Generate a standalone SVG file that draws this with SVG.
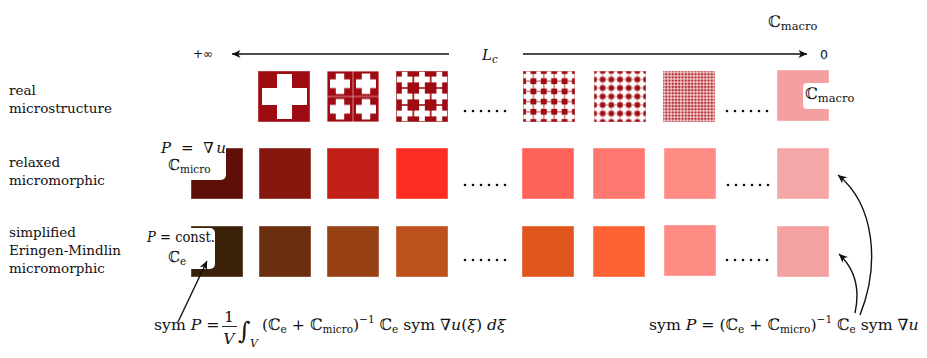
<svg xmlns="http://www.w3.org/2000/svg" width="927" height="358" viewBox="0 0 927 358">
<style>
  .lbl{font-family:"DejaVu Serif","Liberation Serif",serif;font-size:13.5px;fill:#111}
  .m{font-family:"DejaVu Serif","Liberation Serif",serif;font-size:15px;fill:#111}
  .f{font-size:15.7px}
  .it{font-style:italic}
  .sm{font-size:10.5px}
  .ax{font-family:"DejaVu Sans","Liberation Sans",sans-serif;font-size:12px;fill:#111}
  .tile{stroke:#ffffff;stroke-opacity:.4;stroke-width:1}
  .conn{fill:none;stroke:#111;stroke-width:1.4}
  .dot{fill:#111}
</style>
<defs>
  <marker id="ah" viewBox="-10 -5 11 10" refX="0" refY="0" markerWidth="11" markerHeight="10" orient="auto" markerUnits="userSpaceOnUse">
    <path d="M0,0 L-8.5,-4 L-6.2,0 L-8.5,4 Z" fill="#111"/>
  </marker>
  <!-- periodic unit cells: a white cross on dark red -->
  <pattern id="c2" patternUnits="userSpaceOnUse" width="26" height="25.5">
    <rect width="26" height="25.5" fill="#9e0b12" stroke="#e9a3a3" stroke-width="0.8"/>
    <rect x="3" y="8.4" width="20" height="8.7" fill="#fff"/>
    <rect x="8.8" y="2.5" width="8.4" height="20.5" fill="#fff"/>
  </pattern>
  <pattern id="c3" patternUnits="userSpaceOnUse" width="17.333" height="17">
    <rect width="17.333" height="17" fill="#9e0b12"/>
    <rect x="0.8" y="5.6" width="15.7" height="5.8" fill="#fff"/>
    <rect x="5.8" y="0.8" width="5.7" height="15.4" fill="#fff"/>
  </pattern>
  <pattern id="c5" patternUnits="userSpaceOnUse" width="10.4" height="10.2">
    <rect width="10.4" height="10.2" fill="#9e0b12"/>
    <rect x="0.4" y="2.9" width="9.6" height="4.4" fill="#fff"/>
    <rect x="3" y="0.4" width="4.4" height="9.4" fill="#fff"/>
  </pattern>
  <pattern id="c6" patternUnits="userSpaceOnUse" width="8.667" height="8.5">
    <rect width="8.667" height="8.5" fill="#9e0b12"/>
    <rect x="0.3" y="2.5" width="8.067" height="3.5" fill="#fff"/>
    <rect x="2.6" y="0.3" width="3.5" height="7.9" fill="#fff"/>
  </pattern>
  <pattern id="c16" patternUnits="userSpaceOnUse" width="3.25" height="3.1875">
    <rect width="3.25" height="3.1875" fill="#b3262c"/>
    <rect x="0" y="1.1" width="3.25" height="1" fill="#f8dede"/>
    <rect x="1.12" y="0" width="1" height="3.1875" fill="#f8dede"/>
  </pattern>
</defs>

<rect width="927" height="358" fill="#fff"/>

<!-- row captions -->
<g id="caption-real">
  <text class="lbl" x="9" y="95">real</text>
  <text class="lbl" x="9" y="113">microstructure</text>
</g>
<g id="caption-relaxed">
  <text class="lbl" x="9" y="167">relaxed</text>
  <text class="lbl" x="9" y="185">micromorphic</text>
</g>
<g id="caption-eringen">
  <text class="lbl" x="9" y="237">simplified</text>
  <text class="lbl" x="9" y="255">Eringen-Mindlin</text>
  <text class="lbl" x="9" y="273">micromorphic</text>
</g>

<!-- scale axis labels -->
<g id="axis-labels">
  <text class="ax" x="193" y="58">+∞</text>
  <text class="ax" x="820" y="59" style="font-size:12.5px">0</text>
  <text class="m it" x="482" y="60">L<tspan class="sm" dy="3">c</tspan></text>
  <text class="m" x="768" y="27" style="font-size:16px">ℂ<tspan class="sm" dy="3" style="font-size:11.5px">macro</tspan></text>
</g>

<!-- real microstructure -->
<g id="real-1">
  <rect class="tile" x="258" y="71" width="52" height="51" fill="#9e0b12"/>
  <rect x="262" y="88" width="45" height="17" fill="#fff"/>
  <rect x="277" y="74" width="15" height="45" fill="#fff"/>
</g>
<g id="real-2" transform="translate(327,71)"><rect class="tile" width="52" height="51" fill="url(#c2)"/></g>
<g id="real-3" transform="translate(396,71)"><rect class="tile" width="52" height="51" fill="url(#c3)"/></g>
<g id="real-4" transform="translate(523,71)"><rect class="tile" width="52" height="51" fill="url(#c5)"/></g>
<g id="real-5" transform="translate(594,71)"><rect class="tile" width="52" height="51" fill="url(#c6)"/></g>
<g id="real-6" transform="translate(663,71)"><rect class="tile" width="52" height="51" fill="url(#c16)"/></g>
<g id="real-7">
  <rect class="tile" x="777" y="70" width="52" height="51" fill="#f4a0a0"/>
  <rect x="803" y="83" width="67" height="26" rx="4" fill="#fff"/>
  <text class="m" x="805" y="99" style="font-size:16px">ℂ<tspan class="sm" dy="3" style="font-size:11.5px">macro</tspan></text>
</g>

<!-- relaxed micromorphic -->
<g id="relaxed-1">
  <rect class="tile" x="191" y="148" width="52" height="51" fill="#5e0f08"/>
  <rect x="150" y="138" width="76" height="42" rx="5" fill="#fff"/>
  <text class="m" x="161" y="153" textLength="65" lengthAdjust="spacing"><tspan class="it">P</tspan> = ∇<tspan class="it">u</tspan></text>
  <text class="m" x="168" y="170">ℂ<tspan class="sm" dy="3">micro</tspan></text>
</g>
<rect id="relaxed-2" class="tile" x="259" y="148" width="52" height="51" fill="#86170e"/>
<rect id="relaxed-3" class="tile" x="327" y="148" width="52" height="51" fill="#c21f18"/>
<rect id="relaxed-4" class="tile" x="396" y="148" width="52" height="51" fill="#fe2d22"/>
<rect id="relaxed-5" class="tile" x="522" y="148" width="52" height="51" fill="#ff6259"/>
<rect id="relaxed-6" class="tile" x="593" y="148" width="52" height="51" fill="#ff786f"/>
<rect id="relaxed-7" class="tile" x="664" y="148" width="52" height="51" fill="#ff8b85"/>
<rect id="relaxed-8" class="tile" x="777" y="148" width="52" height="51" fill="#f4a7a7"/>

<!-- simplified Eringen-Mindlin micromorphic -->
<g id="eringen-1">
  <rect class="tile" x="191" y="226" width="52" height="51" fill="#3a2108"/>
  <rect x="140" y="228" width="75" height="41" rx="5" fill="#fff"/>
  <text class="m" x="147" y="242" textLength="68" lengthAdjust="spacingAndGlyphs"><tspan class="it">P</tspan> = const.</text>
  <text class="m" x="168" y="262">ℂ<tspan class="sm" dy="3">e</tspan></text>
</g>
<rect id="eringen-2" class="tile" x="259" y="226" width="52" height="51" fill="#6b2f10"/>
<rect id="eringen-3" class="tile" x="327" y="226" width="52" height="51" fill="#964014"/>
<rect id="eringen-4" class="tile" x="396" y="226" width="52" height="51" fill="#bd511d"/>
<rect id="eringen-5" class="tile" x="522" y="226" width="52" height="51" fill="#df561e"/>
<rect id="eringen-6" class="tile" x="593" y="226" width="52" height="51" fill="#fe6334"/>
<rect id="eringen-7" class="tile" x="664" y="225" width="52" height="51" fill="#ff8b85"/>
<rect id="eringen-8" class="tile" x="777" y="226" width="52" height="51" fill="#f4a1a1"/>

<!-- ellipses between columns -->
<g id="ellipses" class="dot">
  <circle cx="465" cy="111" r="1.3"/><circle cx="473" cy="111" r="1.3"/><circle cx="481" cy="111" r="1.3"/><circle cx="489" cy="111" r="1.3"/><circle cx="497" cy="111" r="1.3"/><circle cx="505" cy="111" r="1.3"/>
  <circle cx="727" cy="111" r="1.3"/><circle cx="735" cy="111" r="1.3"/><circle cx="743" cy="111" r="1.3"/><circle cx="751" cy="111" r="1.3"/><circle cx="759" cy="111" r="1.3"/><circle cx="767" cy="111" r="1.3"/>
  <circle cx="465" cy="185" r="1.3"/><circle cx="473" cy="185" r="1.3"/><circle cx="481" cy="185" r="1.3"/><circle cx="489" cy="185" r="1.3"/><circle cx="497" cy="185" r="1.3"/><circle cx="505" cy="185" r="1.3"/>
  <circle cx="728" cy="185" r="1.3"/><circle cx="736" cy="185" r="1.3"/><circle cx="744" cy="185" r="1.3"/><circle cx="752" cy="185" r="1.3"/><circle cx="760" cy="185" r="1.3"/><circle cx="768" cy="185" r="1.3"/>
  <circle cx="465" cy="260" r="1.3"/><circle cx="473" cy="260" r="1.3"/><circle cx="481" cy="260" r="1.3"/><circle cx="489" cy="260" r="1.3"/><circle cx="497" cy="260" r="1.3"/><circle cx="505" cy="260" r="1.3"/>
  <circle cx="727" cy="260" r="1.3"/><circle cx="735" cy="260" r="1.3"/><circle cx="743" cy="260" r="1.3"/><circle cx="751" cy="260" r="1.3"/><circle cx="759" cy="260" r="1.3"/><circle cx="767" cy="260" r="1.3"/>
</g>

<!-- homogenised formulas -->
<g id="formula-left">
  <text class="m f" x="154" y="330">sym <tspan class="it">P</tspan> =</text>
  <text class="m f" x="229" y="322" text-anchor="middle">1</text>
  <line x1="222" y1="326.5" x2="237" y2="326.5" stroke="#111" stroke-width="0.9"/>
  <text class="m f it" x="229" y="344" text-anchor="middle">V</text>
  <text class="m" x="238" y="339" style="font-size:24px">∫</text>
  <text class="m it" x="250" y="347" style="font-size:11px">V</text>
  <text class="m f" x="262" y="330">(ℂ<tspan class="sm" dy="3">e</tspan><tspan dy="-3"> + ℂ</tspan><tspan class="sm" dy="3">micro</tspan><tspan dy="-3">)</tspan><tspan class="sm" dy="-7">−1</tspan><tspan dy="7"> ℂ</tspan><tspan class="sm" dy="3">e</tspan><tspan dy="-3"> sym ∇</tspan><tspan class="it">u</tspan>(<tspan class="it">ξ</tspan>) <tspan class="it">d</tspan><tspan class="it">ξ</tspan></text>
</g>
<g id="formula-right">
  <text class="m f" x="649" y="330">sym <tspan class="it">P</tspan> = (ℂ<tspan class="sm" dy="3">e</tspan><tspan dy="-3"> + ℂ</tspan><tspan class="sm" dy="3">micro</tspan><tspan dy="-3">)</tspan><tspan class="sm" dy="-7">−1</tspan><tspan dy="7"> ℂ</tspan><tspan class="sm" dy="3">e</tspan><tspan dy="-3"> sym ∇</tspan><tspan class="it">u</tspan></text>
</g>

<!-- connectors -->
<g id="connectors" class="conn">
  <line x1="449" y1="54" x2="232" y2="54" marker-end="url(#ah)"/>
  <line x1="523" y1="54" x2="807" y2="54" marker-end="url(#ah)"/>
  <line x1="178" y1="322" x2="207" y2="261" marker-end="url(#ah)"/>
  <path d="M860,315 C880,265 875,205 838,175" marker-end="url(#ah)"/>
  <path d="M855,313 C860,290 856,270 839,254" marker-end="url(#ah)"/>
</g>
</svg>
